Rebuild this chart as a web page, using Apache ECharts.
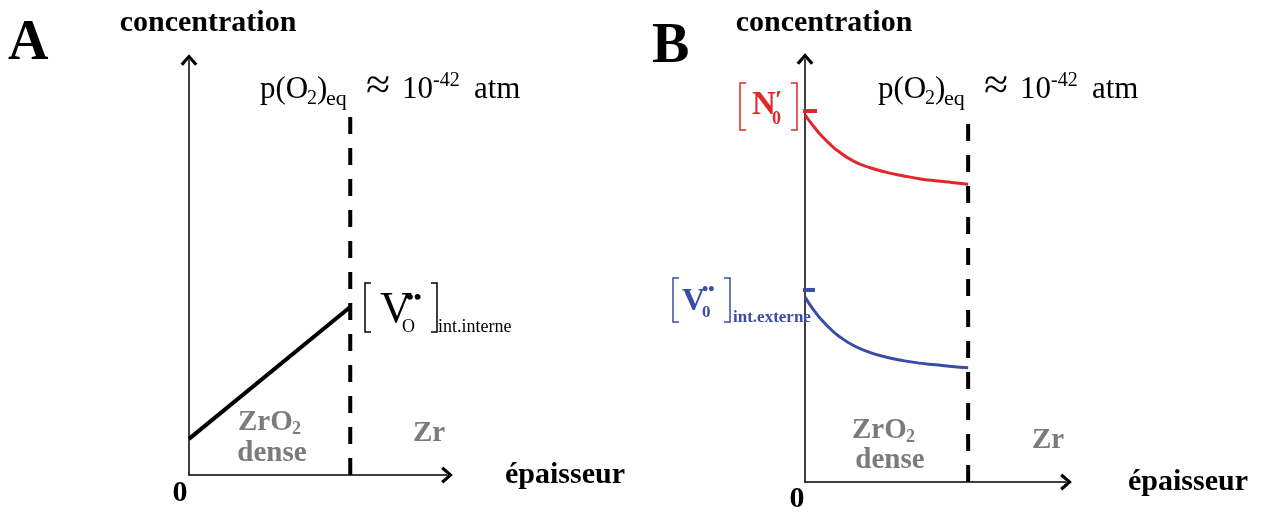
<!DOCTYPE html>
<html>
<head>
<meta charset="utf-8">
<title>Profils de concentration dans ZrO2 dense</title>
<script src="https://cdn.jsdelivr.net/npm/echarts@6/dist/echarts.min.js"></script>
<style>
  html, body { margin: 0; padding: 0; background: #fff; }
  #chart { width: 1266px; height: 512px; }
</style>
</head>
<body>
<div id="chart"></div>
<script>
// ---- data (thickness normalised so that the ZrO2/Zr interface sits at x = 1) ----
const interfaceX = 1;
const interfaceTop = 8.72;

// Panel A : oxygen vacancies, linear profile through the dense oxide
const thicknessA = [0, 1];
const vacancyA = [0.87, 4.05];

// Panel B : nitrogen and vacancy profiles decreasing from the outer interface
const thicknessB = [0, 0.05, 0.1, 0.15, 0.2, 0.3, 0.4, 0.5, 0.6, 0.7, 0.8, 0.9, 1.0];
const nitrogenB = [8.68, 8.42, 8.19, 8.00, 7.83, 7.58, 7.43, 7.32, 7.24, 7.17, 7.12, 7.08, 7.04];
const vacancyB = [4.37, 4.08, 3.84, 3.64, 3.47, 3.22, 3.06, 2.95, 2.87, 2.81, 2.77, 2.73, 2.70];

// short marks on the concentration axis for the boundary values
const tickNX = [-0.012, 0.074];
const tickNY = 8.77;
const tickVX = [-0.043, 0.061];
const tickVY = 4.54;

const RED = '#e3262b';
const BLUE = '#3a4ca6';
const GREY = '#7b7b7b';
const SERIF = '"Liberation Serif", "DejaVu Serif", serif';

// open chevron used as the arrow head of both axes (drawn pointing up)
const CHEVRON = 'path://M8,0 L16,9 L13.6,11 L8,4.4 L2.4,11 L0,9 Z';

function zip(xs, ys) { return xs.map((x, i) => [x, ys[i]]); }

function axisBase(extra) {
  return Object.assign({
    type: 'value',
    axisLine: {
      show: true, onZero: false,
      symbol: ['none', CHEVRON], symbolSize: [17, 12],
      lineStyle: { color: '#000', width: 1.5 }
    },
    axisTick: { show: false },
    axisLabel: { show: false },
    splitLine: { show: false }
  }, extra);
}

// text placed by its alphabetic baseline
function label(x, base, text, size, opts) {
  opts = opts || {};
  const align = opts.align || 'left';
  return {
    type: 'text', x: x, y: base - size * 0.34, silent: true, z: 100,
    style: {
      text: text,
      font: (opts.weight || 'normal') + ' ' + size + 'px ' + SERIF,
      fill: opts.color || '#000',
      align: align, textAlign: align,
      verticalAlign: 'middle', textVerticalAlign: 'middle'
    }
  };
}

function bracket(x, top, bottom, dir, color) {
  const w = 6 * dir;
  return {
    type: 'polyline', silent: true, z: 100,
    shape: { points: [[x + w, top], [x, top], [x, bottom], [x + w, bottom]] },
    style: { stroke: color, lineWidth: 1.5, fill: null }
  };
}

// p(O2)eq ≈ 10^-42 atm, laid out from a left offset
function pressureLabel(dx) {
  return [
    label(260 + dx, 100, 'p(O', 31),
    label(307 + dx, 106, '2', 20),
    label(317 + dx, 100, ')', 31),
    label(326 + dx, 107, 'eq', 22),
    label(366 + dx, 102, '\u2248', 44),
    label(402 + dx, 100, '10', 31),
    label(433 + dx, 88, '-42', 20),
    label(474 + dx, 100, 'atm', 31)
  ];
}

const graphics = [
  label(8, 64, 'A', 56, { weight: 'bold' }),
  label(652, 67, 'B', 56, { weight: 'bold' }),
  label(180, 503, '0', 30, { weight: 'bold', align: 'center' }),
  label(797, 509, '0', 30, { weight: 'bold', align: 'center' }),
  ...pressureLabel(0),
  ...pressureLabel(618),

  // [V_O••] int.interne
  bracket(365, 283, 332, 1, '#000'),
  bracket(437, 283, 332, -1, '#000'),
  label(380, 325, 'V', 44),
  label(406, 306, '\u2022\u2022', 22, { weight: 'bold' }),
  label(402, 333, 'O', 18),
  label(438, 333, 'int.interne', 18),

  // [N'_0]
  bracket(740, 83, 130, 1, RED),
  bracket(797, 83, 130, -1, RED),
  label(752, 117, 'N', 33, { weight: 'bold', color: RED }),
  label(775, 110, '\u2032', 26, { weight: 'bold', color: RED }),
  label(772, 125, '0', 18, { weight: 'bold', color: RED }),

  // [V_0••] int.externe
  bracket(673, 278, 322, 1, BLUE),
  bracket(730, 278, 322, -1, BLUE),
  label(682, 313, 'V', 32, { weight: 'bold', color: BLUE }),
  label(702, 296, '\u2022\u2022', 18, { weight: 'bold', color: BLUE }),
  label(702, 318, '0', 17, { weight: 'bold', color: BLUE }),
  label(733, 323, 'int.externe', 17, { weight: 'bold', color: BLUE }),

  // layer names
  label(238, 432, 'ZrO', 29, { weight: 'bold', color: GREY }),
  label(292, 435, '2', 18, { weight: 'bold', color: GREY }),
  label(272, 463, 'dense', 29, { weight: 'bold', color: GREY, align: 'center' }),
  label(413, 443, 'Zr', 29, { weight: 'bold', color: GREY }),
  label(852, 440, 'ZrO', 29, { weight: 'bold', color: GREY }),
  label(906, 443, '2', 18, { weight: 'bold', color: GREY }),
  label(890, 470, 'dense', 29, { weight: 'bold', color: GREY, align: 'center' }),
  label(1032, 450, 'Zr', 29, { weight: 'bold', color: GREY })
];

const nameStyleY = { color: '#000', fontFamily: SERIF, fontWeight: 'bold', fontSize: 30, padding: [0, 0, 0, 38] };

const option = {
  animation: false,
  backgroundColor: '#ffffff',
  grid: [
    { left: 189, top: 60, width: 258, height: 415 },
    { left: 805, top: 59, width: 261, height: 423 }
  ],
  xAxis: [
    axisBase({ gridIndex: 0, min: 0, max: 1.6, name: 'épaisseur', nameLocation: 'end', nameGap: 58,
      nameTextStyle: { color: '#000', fontFamily: SERIF, fontWeight: 'bold', fontSize: 30, padding: [10, 0, 0, 0] } }),
    axisBase({ gridIndex: 1, min: 0, max: 1.6, name: 'épaisseur', nameLocation: 'end', nameGap: 62,
      nameTextStyle: { color: '#000', fontFamily: SERIF, fontWeight: 'bold', fontSize: 30, padding: [4, 0, 0, 0] } })
  ],
  yAxis: [
    axisBase({ gridIndex: 0, min: 0, max: 10, name: 'concentration', nameLocation: 'end', nameGap: 22, nameTextStyle: nameStyleY }),
    axisBase({ gridIndex: 1, min: 0, max: 10, name: 'concentration', nameLocation: 'end', nameGap: 21, nameTextStyle: nameStyleY })
  ],
  series: [
    {
      type: 'line', xAxisIndex: 0, yAxisIndex: 0, symbol: 'none', silent: true,
      data: zip(thicknessA, vacancyA),
      lineStyle: { color: '#000', width: 4 }
    },
    {
      type: 'line', xAxisIndex: 1, yAxisIndex: 1, symbol: 'none', silent: true,
      smooth: 0.5,
      data: zip(thicknessB, nitrogenB),
      lineStyle: { color: RED, width: 3 }
    },
    {
      type: 'line', xAxisIndex: 1, yAxisIndex: 1, symbol: 'none', silent: true,
      smooth: 0.5,
      data: zip(thicknessB, vacancyB),
      lineStyle: { color: BLUE, width: 3 }
    },
    {
      type: 'line', xAxisIndex: 1, yAxisIndex: 1, symbol: 'none', silent: true, clip: false,
      data: tickNX.map(x => [x, tickNY]),
      lineStyle: { color: RED, width: 4 }
    },
    {
      type: 'line', xAxisIndex: 1, yAxisIndex: 1, symbol: 'none', silent: true, clip: false,
      data: tickVX.map(x => [x, tickVY]),
      lineStyle: { color: BLUE, width: 4 }
    },
    {
      type: 'line', xAxisIndex: 0, yAxisIndex: 0, symbol: 'none', silent: true, z: 5,
      data: [[interfaceX, 0], [interfaceX, interfaceTop]],
      lineStyle: { color: '#000', width: 4, type: [17, 14] }
    },
    {
      type: 'line', xAxisIndex: 1, yAxisIndex: 1, symbol: 'none', silent: true, z: 5,
      data: [[interfaceX, 0], [interfaceX, interfaceTop]],
      lineStyle: { color: '#000', width: 4, type: [17, 14] }
    }
  ],
  graphic: graphics
};

const chart = echarts.init(document.getElementById('chart'), null, { renderer: 'canvas' });
chart.setOption(option);
</script>
</body>
</html>
